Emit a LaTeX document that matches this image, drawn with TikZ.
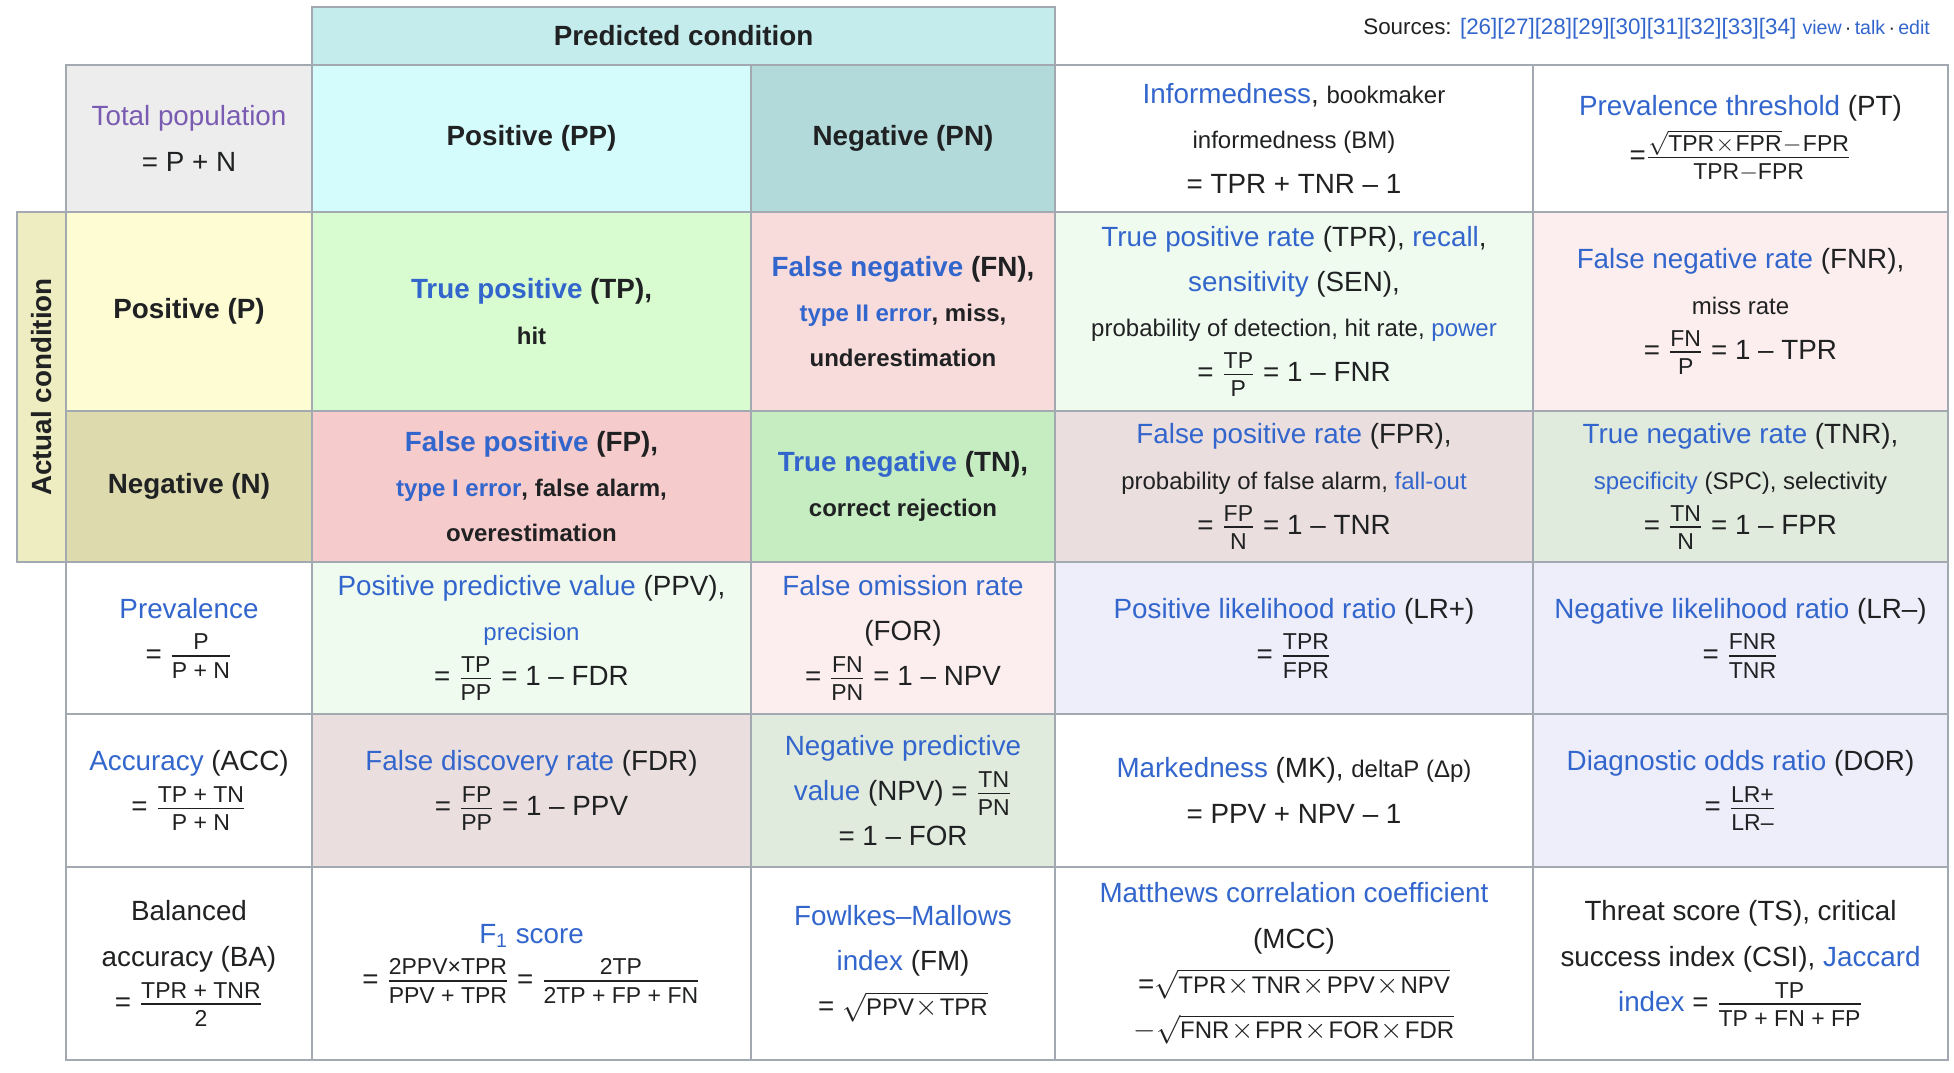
\documentclass[tikz,border=0pt]{standalone}
\usepackage{fontspec}
\usepackage{amsmath}
\setmainfont{Liberation Sans}

\definecolor{ink}{HTML}{202122}
\definecolor{linkc}{HTML}{3366CC}
\definecolor{purp}{HTML}{795CB2}
\definecolor{gridc}{HTML}{A2A9B1}
\definecolor{predc}{HTML}{C4ECEC}
\definecolor{totc}{HTML}{EDEDED}
\definecolor{ppc}{HTML}{D5FCFC}
\definecolor{pnc}{HTML}{B3DADA}
\definecolor{actc}{HTML}{EEEDC1}
\definecolor{posc}{HTML}{FEFCD3}
\definecolor{negc}{HTML}{DDDAAE}
\definecolor{tpc}{HTML}{D8FCD0}
\definecolor{fnc}{HTML}{F8DCDC}
\definecolor{fpc}{HTML}{F6CBCB}
\definecolor{tnc}{HTML}{C6ECC1}
\definecolor{tprc}{HTML}{F0FBEF}
\definecolor{fnrc}{HTML}{FCEEEE}
\definecolor{fprc}{HTML}{EADEDE}
\definecolor{tnrc}{HTML}{E0EADD}
\definecolor{lrc}{HTML}{EEEEFB}

\newcommand\fnorm{\fontsize{13.9}{22.6}\selectfont}
\newcommand\fsmall{\fontsize{12}{22.6}\selectfont}
\newcommand\ffrac{\fontsize{11.5}{12}\selectfont}
\newcommand\lnk[1]{\textcolor{linkc}{#1}}
\newcommand\frc[2]{$\genfrac{}{}{0.7pt}{1}{\text{\ffrac\rule[-2pt]{0pt}{2pt}#1}}{\text{\ffrac\rule{0pt}{10pt}#2}}$}
\newcommand\mtx[1]{\text{\fsmall #1}}
\newcommand\tms{\!\times\!}

\begin{document}
\begin{tikzpicture}[x=0.5pt,y=-0.5pt,
  cell/.style={draw=gridc, line width=1.1pt, inner sep=0pt, align=center, text=ink, font=\fnorm},
  head/.style={cell, font=\fnorm\bfseries},
  col0/.style={minimum width=123pt}, col1/.style={minimum width=219.5pt},
  col2/.style={minimum width=152pt}, col3/.style={minimum width=239pt},
  col4/.style={minimum width=207.5pt},
  row1/.style={minimum height=73.5pt}, row2/.style={minimum height=99.5pt},
  row3/.style={minimum height=75.5pt}, row4/.style={minimum height=76pt},
  row5/.style={minimum height=76.5pt}, row6/.style={minimum height=96.5pt}]
  \useasboundingbox (0,0) rectangle (1954,1072);

  \node[head, fill=predc, minimum width=371.5pt, minimum height=29pt] (pred) at (683.5,36) {Predicted condition};
  \node[anchor=east, text=ink, font=\fontsize{11.2}{13}\selectfont] (src) at (1937,29)
    {Sources: \lnk{[26][27][28][29][30][31][32][33][34]} {\fontsize{9.8}{12}\selectfont\lnk{view}\,·\,\lnk{talk}\,·\,\lnk{edit}}};
  \node[head, fill=actc, rotate=90, minimum width=175pt, minimum height=24.5pt] (act) at (41.5,387) {Actual condition};

  % Row 1
  \node[cell, col0, row1, fill=totc] (tot) at (189,138.5) {\textcolor{purp}{Total population}\\= P + N};
  \node[head, col1, row1, fill=ppc] (pp) at (531.5,138.5) {Positive (PP)};
  \node[head, col2, row1, fill=pnc] (pn) at (903,138.5) {Negative (PN)};
  \node[cell, col3, row1, fill=white] (bm) at (1294,138.5) {\lnk{Informedness}, {\fsmall bookmaker}\\{\fsmall informedness (BM)}\\= TPR + TNR -- 1};
  \node[cell, col4, row1, fill=white] (pt) at (1740.5,138.5) {\lnk{Prevalence threshold} (PT)\\[2pt]=\frc{$\sqrt{\text{TPR}\tms\text{FPR}}\!-\!\text{FPR}$}{TPR$-$FPR}};

  % Row 2
  \node[head, col0, row2, fill=posc] (pos) at (189,311.5) {Positive (P)};
  \node[head, col1, row2, fill=tpc] (tp) at (531.5,311.5) {\lnk{True positive} (TP),\\{\fsmall hit}};
  \node[head, col2, row2, fill=fnc] (fn) at (903,311.5) {\lnk{False negative} (FN),\\{\fsmall\lnk{type II error}, miss,}\\{\fsmall underestimation}};
  \node[cell, col3, row2, fill=tprc] (tpr) at (1294,311.5) {\lnk{True positive rate} (TPR), \lnk{recall},\\\lnk{sensitivity} (SEN),\\{\fsmall probability of detection, hit rate, \lnk{power}}\\= \frc{TP}{P} = 1 -- FNR};
  \node[cell, col4, row2, fill=fnrc] (fnr) at (1740.5,311.5) {\lnk{False negative rate} (FNR),\\{\fsmall miss rate}\\= \frc{FN}{P} = 1 -- TPR};

  % Row 3
  \node[head, col0, row3, fill=negc] (neg) at (189,486.5) {Negative (N)};
  \node[head, col1, row3, fill=fpc] (fp) at (531.5,486.5) {\lnk{False positive} (FP),\\{\fsmall\lnk{type I error}, false alarm,}\\{\fsmall overestimation}};
  \node[head, col2, row3, fill=tnc] (tn) at (903,486.5) {\lnk{True negative} (TN),\\{\fsmall correct rejection}};
  \node[cell, col3, row3, fill=fprc] (fpr) at (1294,486.5) {\lnk{False positive rate} (FPR),\\{\fsmall probability of false alarm, \lnk{fall-out}}\\= \frc{FP}{N} = 1 -- TNR};
  \node[cell, col4, row3, fill=tnrc] (tnr) at (1740.5,486.5) {\lnk{True negative rate} (TNR),\\{\fsmall\lnk{specificity} (SPC), selectivity}\\= \frc{TN}{N} = 1 -- FPR};

  % Row 4
  \node[cell, col0, row4, fill=white] (prev) at (189,638) {\lnk{Prevalence}\\= \frc{P}{P + N}};
  \node[cell, col1, row4, fill=tprc] (ppv) at (531.5,638) {\lnk{Positive predictive value} (PPV),\\{\fsmall\lnk{precision}}\\= \frc{TP}{PP} = 1 -- FDR};
  \node[cell, col2, row4, fill=fnrc] (for) at (903,638) {\lnk{False omission rate}\\(FOR)\\= \frc{FN}{PN} = 1 -- NPV};
  \node[cell, col3, row4, fill=lrc] (lrp) at (1294,638) {\lnk{Positive likelihood ratio} (LR+)\\= \frc{TPR}{FPR}};
  \node[cell, col4, row4, fill=lrc] (lrn) at (1740.5,638) {\lnk{Negative likelihood ratio} (LR--)\\= \frc{FNR}{TNR}};

  % Row 5
  \node[cell, col0, row5, fill=white] (acc) at (189,790.5) {\lnk{Accuracy} (ACC)\\= \frc{TP + TN}{P + N}};
  \node[cell, col1, row5, fill=fprc] (fdr) at (531.5,790.5) {\lnk{False discovery rate} (FDR)\\= \frc{FP}{PP} = 1 -- PPV};
  \node[cell, col2, row5, fill=tnrc] (npv) at (903,790.5) {\lnk{Negative predictive}\\\lnk{value} (NPV) = \frc{TN}{PN}\\= 1 -- FOR};
  \node[cell, col3, row5, fill=white] (mk) at (1294,790.5) {\lnk{Markedness} (MK), {\fsmall deltaP (Δp)}\\= PPV + NPV -- 1};
  \node[cell, col4, row5, fill=lrc] (dor) at (1740.5,790.5) {\lnk{Diagnostic odds ratio} (DOR)\\= \frc{LR+}{LR--}};

  % Row 6
  \node[cell, col0, row6, fill=white] (ba) at (189,963.5) {Balanced\\accuracy (BA)\\= \frc{TPR + TNR}{2}};
  \node[cell, col1, row6, fill=white] (fone) at (531.5,963.5) {\lnk{F\textsubscript{1} score}\\= \frc{2PPV×TPR}{PPV + TPR} = \frc{2TP}{2TP + FP + FN}};
  \node[cell, col2, row6, fill=white] (fm) at (903,963.5) {\lnk{Fowlkes--Mallows}\\\lnk{index} (FM)\\= $\sqrt{\mtx{PPV}\tms\mtx{TPR}}$};
  \node[cell, col3, row6, fill=white] (mcc) at (1294,963.5) {\lnk{Matthews correlation coefficient}\\(MCC)\\=$\sqrt{\mtx{TPR}\tms\mtx{TNR}\tms\mtx{PPV}\tms\mtx{NPV}}$\\$-\sqrt{\mtx{FNR}\tms\mtx{FPR}\tms\mtx{FOR}\tms\mtx{FDR}}$};
  \node[cell, col4, row6, fill=white] (ts) at (1740.5,963.5) {Threat score (TS), critical\\success index (CSI), \lnk{Jaccard}\\\lnk{index} = \frc{TP}{TP + FN + FP}};
\end{tikzpicture}
\end{document}
